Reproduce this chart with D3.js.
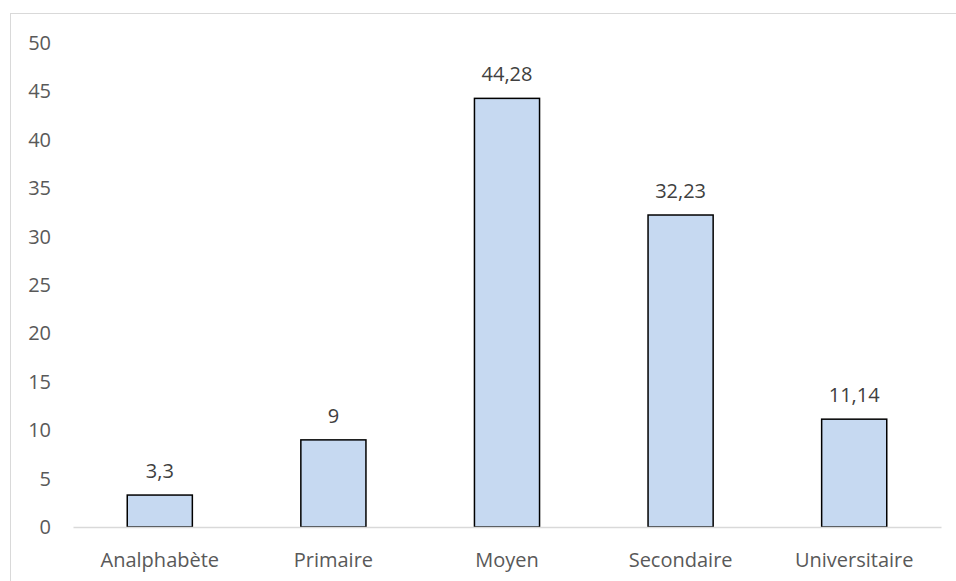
<!DOCTYPE html>
<html>
<head>
<meta charset="utf-8">
<script src="https://cdn.jsdelivr.net/npm/d3@7"></script>
<style>
  html, body { margin: 0; padding: 0; background: #fff; }
  svg { display: block; font-family: "Open Sans", "Noto Sans", sans-serif; }
</style>
</head>
<body>
<svg id="chart" width="956" height="581"></svg>
<script>
// Niveau d'instruction (%)
const categories = ["Analphabète", "Primaire", "Moyen", "Secondaire", "Universitaire"];
const values = [3.3, 9, 44.28, 32.23, 11.14];
const yTicks = [0, 5, 10, 15, 20, 25, 30, 35, 40, 45, 50];

const svg = d3.select("#chart");
const baseY = 527;
const FONT = "20px";

// chart frame (top and left edges visible)
svg.append("rect")
  .attr("x", 10.5).attr("y", 13.5)
  .attr("width", 960).attr("height", 600)
  .attr("fill", "none")
  .attr("stroke", "#d9d9d9")
  .attr("stroke-width", 1);

const x = d3.scaleBand()
  .domain(categories)
  .range([73, 941])
  .paddingInner(0.625)
  .paddingOuter(0.3125);

const y = d3.scaleLinear()
  .domain([0, 50])
  .range([baseY, 43]);

const fmt = v => String(v).replace(".", ",");

// y axis labels
const yAxis = d3.axisLeft(y).tickValues(yTicks).tickSize(0).tickPadding(0);
const gy = svg.append("g").attr("transform", "translate(51,0)").call(yAxis);
gy.select(".domain").remove();
gy.selectAll("text")
  .attr("fill", "#595959")
  .style("font-size", FONT)
  .style("font-family", "'Open Sans', sans-serif");

// bars
svg.append("g").selectAll("rect")
  .data(values)
  .join("rect")
  .attr("x", (d, i) => x(categories[i]))
  .attr("y", d => y(d))
  .attr("width", x.bandwidth())
  .attr("height", d => baseY - y(d))
  .attr("fill", "#c6d9f1")
  .attr("stroke", "#000")
  .attr("stroke-width", 1.5);

// x axis
const xAxis = d3.axisBottom(x).tickSize(0).tickPadding(26);
const gx = svg.append("g").attr("transform", `translate(0,${baseY})`).call(xAxis);
gx.select(".domain").attr("stroke", "#d9d9d9").attr("stroke-width", 1.5);
gx.selectAll("text")
  .attr("fill", "#595959")
  .style("font-size", FONT)
  .style("font-family", "'Open Sans', sans-serif");

// value labels
svg.append("g").selectAll("text")
  .data(values)
  .join("text")
  .attr("x", (d, i) => x(categories[i]) + x.bandwidth() / 2)
  .attr("y", d => y(d) - 17)
  .attr("text-anchor", "middle")
  .attr("fill", "#404040")
  .style("font-size", FONT)
  .text(d => fmt(d));
</script>
</body>
</html>
